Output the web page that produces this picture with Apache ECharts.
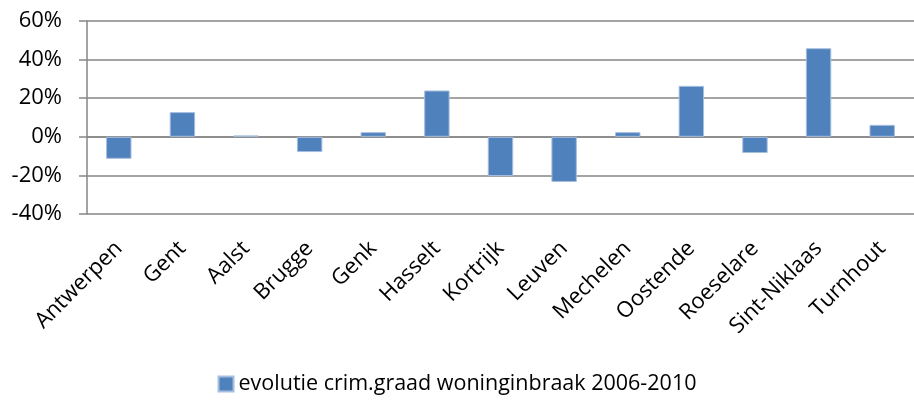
<!DOCTYPE html>
<html>
<head>
<meta charset="utf-8">
<script src="https://cdn.jsdelivr.net/npm/echarts@6/dist/echarts.min.js"></script>
<style>
  html, body { margin: 0; padding: 0; background: #fff; }
  #chart { width: 914px; height: 400px; }
</style>
</head>
<body>
<div id="chart"></div>
<script>
// steden
var cities = ['Antwerpen', 'Gent', 'Aalst', 'Brugge', 'Genk', 'Hasselt', 'Kortrijk',
  'Leuven', 'Mechelen', 'Oostende', 'Roeselare', 'Sint-Niklaas', 'Turnhout'];
// evolutie in %
var evolutie = [-11.4, 12.8, 0.7, -7.9, 2.4, 24.0, -20.3, -23.4, 2.4, 26.4, -8.4, 45.9, 6.2];
var seriesName = 'evolutie crim.graad woninginbraak 2006-2010';

var font = 'Open Sans';
var grey = '#868686';

var chart = echarts.init(document.getElementById('chart'));
chart.setOption({
  animation: false,
  textStyle: { fontFamily: font },
  grid: { left: 87, right: -9, top: 21, bottom: 186 },
  legend: {
    bottom: 0,
    left: 'center',
    itemWidth: 15,
    itemHeight: 15,
    itemGap: 5,
    icon: 'rect',
    textStyle: { fontFamily: font, fontSize: 21.5, color: '#000' },
    data: [seriesName]
  },
  xAxis: [{
    // nullijn met streepjes
    type: 'category',
    data: cities,
    axisLine: { onZero: true, lineStyle: { color: grey, width: 1.5 } },
    axisTick: { length: 8, lineStyle: { color: grey, width: 1.5 } },
    axisLabel: { show: false }
  }, {
    // labels onderaan
    type: 'category',
    data: cities,
    position: 'bottom',
    axisLine: { show: false, onZero: false },
    axisTick: { show: false },
    axisLabel: {
      rotate: 45,
      margin: 31,
      fontSize: 22,
      fontFamily: font,
      color: '#000',
      interval: 0
    }
  }],
  yAxis: {
    type: 'value',
    min: -40,
    max: 60,
    interval: 20,
    axisLine: { show: true, lineStyle: { color: grey, width: 1.5 } },
    axisTick: { show: true, length: 8, lineStyle: { color: grey, width: 1.5 } },
    splitLine: { lineStyle: { color: grey, width: 1.5 } },
    axisLabel: {
      margin: 25,
      fontSize: 22,
      fontFamily: font,
      color: '#000',
      formatter: function (v) { return v + '%'; }
    }
  },
  series: [{
    name: seriesName,
    type: 'bar',
    data: evolutie,
    barWidth: '40%',
    itemStyle: { color: '#4F81BD', borderColor: '#A7BFDE', borderWidth: 1 }
  }]
});
</script>
</body>
</html>
